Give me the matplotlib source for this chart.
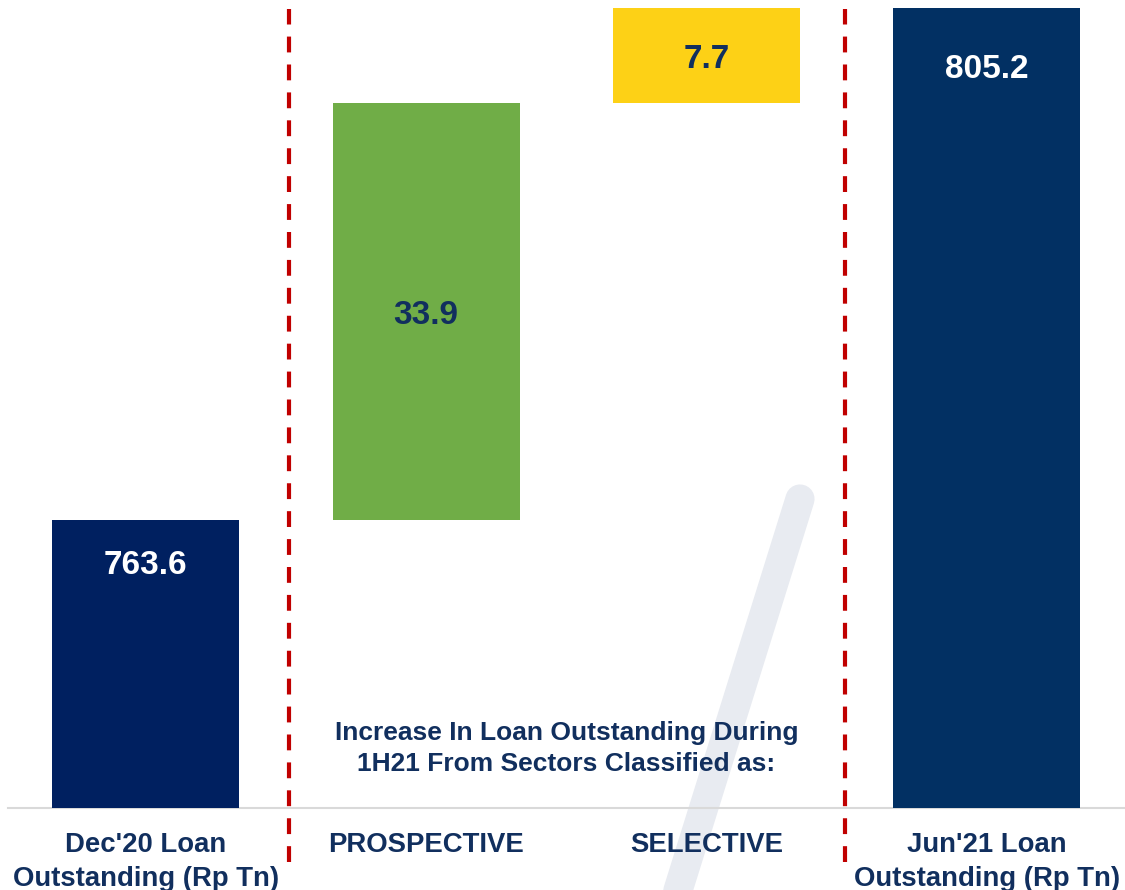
import matplotlib.pyplot as plt
from matplotlib.lines import Line2D

plt.rcParams['font.family'] = ['Liberation Sans', 'DejaVu Sans']

# data
categories = ["Dec'20 Loan\nOutstanding (Rp Tn)", "PROSPECTIVE", "SELECTIVE",
              "Jun'21 Loan\nOutstanding (Rp Tn)"]
start_total = 763.6
increments = [33.9, 7.7]
end_total = 805.2

navy_text = '#112F5E'
bar_colors = ['#002060', '#70AD47', '#FDD116', '#023063']
label_colors = ['white', navy_text, navy_text, 'white']

# bar bottoms/heights for the waterfall
bottoms = [0, start_total, start_total + increments[0], 0]
heights = [start_total, increments[0], increments[1], end_total]
labels = [f'{v:.1f}' for v in [start_total] + increments + [end_total]]

fig = plt.figure(figsize=(11.25, 8.9), dpi=100)
ax = fig.add_axes([8 / 1125, 82 / 890, 1117 / 1125, 808 / 890])
ax.set_facecolor('none')

x = list(range(len(categories)))
ax.bar(x, heights, bottom=bottoms, width=0.667, color=bar_colors, zorder=3)

ax.set_xlim(-0.492, 3.493)
ymin, ymax = 740.18, 805.89
ax.set_ylim(ymin, ymax)

# value labels: totals near top, increments centered
for i in range(len(x)):
    top = bottoms[i] + heights[i]
    if i in (0, 3):
        off = -33 if i == 0 else -44
        pos = (x[i], top)
    else:
        off = -3
        pos = (x[i], bottoms[i] + heights[i] / 2)
    ax.annotate(labels[i], pos, xytext=(0, off), textcoords='offset points',
                ha='center', va='center', fontsize=24, fontweight='bold',
                color=label_colors[i], zorder=4)

ax.text(1.5, 745.0, 'Increase In Loan Outstanding During\n1H21 From Sectors Classified as:',
        ha='center', va='center', fontsize=19, fontweight='bold', color=navy_text,
        linespacing=1.38, zorder=4)

# section separators
for xs in (0.51, 2.494):
    ax.plot([xs, xs], [735.8, 805.16], color='#C00000', lw=3, dashes=(3.8, 2.9),
            clip_on=False, zorder=2)

# light slash in the background
ax.add_line(Line2D([800 / 1125, 660 / 1125], [1 - 499 / 890, 1 - 948 / 890],
                   transform=fig.transFigure, color='#E8EBF1', lw=21,
                   solid_capstyle='round', clip_on=False, zorder=0))

ax.set_xticks(x)
ax.set_xticklabels(categories, fontsize=19.8, fontweight='bold', color=navy_text,
                   linespacing=1.4)
ax.tick_params(axis='x', length=0, pad=17)
ax.set_yticks([])
for s in ['top', 'left', 'right']:
    ax.spines[s].set_visible(False)
ax.spines['bottom'].set_color('#D9D9D9')
ax.spines['bottom'].set_linewidth(1.5)

fig.savefig('out.png', dpi=100)
